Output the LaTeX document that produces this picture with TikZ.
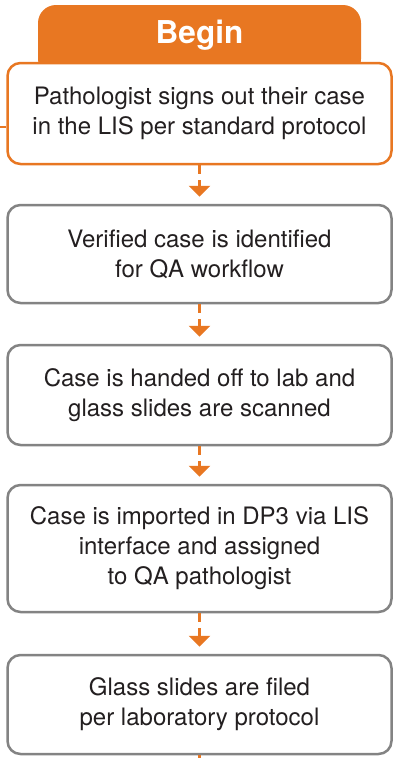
\documentclass[tikz,border=0pt]{standalone}
\usepackage{fontspec}
\setmainfont{TeX Gyre Heros}
\usetikzlibrary{arrows.meta, positioning}
\definecolor{corange}{HTML}{E87722}
\definecolor{cgray}{HTML}{838383}
\definecolor{ctext}{HTML}{231F20}

\tikzset{
  stepbox/.style={draw=cgray, line width=2.5pt, fill=white, rounded corners=13pt,
    minimum width=384pt, align=center, text=ctext, inner sep=0pt,
    font=\fontsize{24}{30}\selectfont},
  firstbox/.style={stepbox, draw=corange},
  flowarrow/.style={corange, line width=2.5pt, dash pattern=on 9pt off 6pt,
    -{Triangle[width=21pt, length=11pt]}, shorten >=7pt},
  tabline/.style={corange, line width=2.5pt}
}

\begin{document}
\begin{tikzpicture}[x=1pt, y=-1pt]
  \useasboundingbox (0,0) rectangle (393,758);
  % header tab
  \node[fill=corange, rounded corners=18pt, minimum width=323pt, minimum height=72pt,
    inner sep=0pt] (tab) at (199.5,41) {};
  \node[text=white, font=\fontsize{31.5}{32}\selectfont\bfseries] (begin) at (199.5,35) {Begin};
  % steps
  \node[firstbox, minimum height=101pt] (sign) at (199.5,113.5)
    {Pathologist signs out their case\\in the LIS per standard protocol};
  \node[stepbox, minimum height=98pt] (verify) at (199.5,254)
    {Verified case is identified\\for QA workflow};
  \node[stepbox, minimum height=100pt] (scan) at (199.5,395)
    {Case is handed off to lab and\\glass slides are scanned};
  \node[stepbox, minimum height=127pt] (import) at (199.5,548.5)
    {Case is imported in DP3 via LIS\\interface and assigned\\to QA pathologist};
  \node[stepbox, minimum height=99pt] (file) at (199.5,704.5)
    {Glass slides are filed\\per laboratory protocol};
  % connectors
  \draw[flowarrow] (sign) -- (verify);
  \draw[flowarrow] (verify) -- (scan);
  \draw[flowarrow] (scan) -- (import);
  \draw[flowarrow] (import) -- (file);
  \coordinate (inlet) at (0,127);
  \coordinate (outlet) at (199.5,760);
  \draw[tabline] (inlet) -- (sign.west |- inlet);
  \draw[tabline] (file.south) -- (outlet);
\end{tikzpicture}
\end{document}
